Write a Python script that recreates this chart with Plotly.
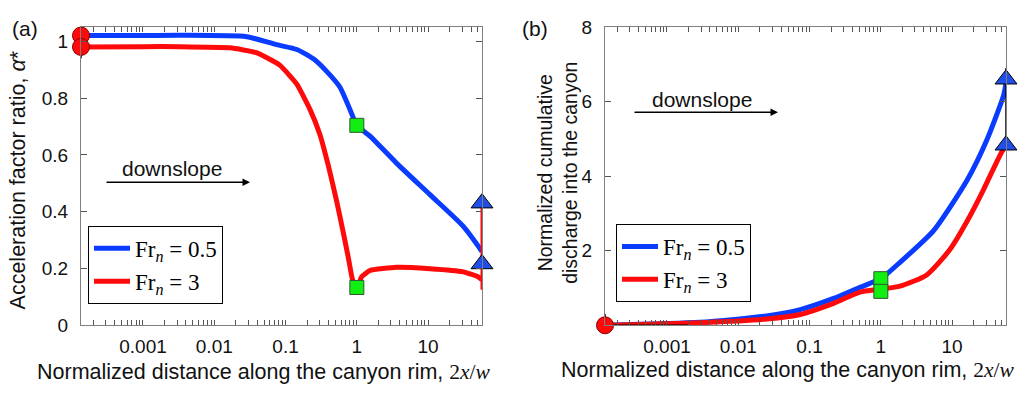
import plotly.graph_objects as go
import numpy as np

# ---------------- data ----------------
X_MIN = 1.35e-4
X_MAX = 57.0
YA_MAX = 1.05
YB_MAX = 8.0

# panel (a): acceleration factor ratio
x_a_blue = [X_MIN, 0.001, 0.0033, 0.0285, 0.075, 0.144, 0.246, 0.38, 0.58, 0.80, 1.0, 1.53, 3.6, 10.6, 31, X_MAX]
y_a_blue = [1.02, 1.02, 1.021, 1.016, 0.988, 0.971, 0.938, 0.893, 0.838, 0.76, 0.704, 0.666, 0.571, 0.46, 0.349, 0.26]
x_a_red = [X_MIN, 0.001, 0.0033, 0.0166, 0.039, 0.083, 0.144, 0.22, 0.304, 0.40, 0.52, 0.645, 0.76, 0.87, 1.0,
           1.17, 1.53, 3.6, 10.6, 31, 50, X_MAX]
y_a_red = [0.98, 0.981, 0.981, 0.977, 0.96, 0.916, 0.849, 0.76, 0.671, 0.56, 0.438, 0.327, 0.238, 0.16, 0.133,
           0.171, 0.193, 0.204, 0.199, 0.188, 0.171, 0.16]
a_start_y = [1.02, 0.98]
a_square_y = [0.704, 0.133]
a_tri_y = [0.43, 0.216]
a_end_red = [0.125, 0.43]

# panel (b): normalized cumulative discharge
x_b_blue = [X_MIN, 0.0029, 0.025, 0.074, 0.217, 0.51, 1.0, 1.86, 5.5, 16.2, 31, 53, X_MAX]
y_b_blue = [0.0, 0.08, 0.25, 0.42, 0.72, 1.02, 1.25, 1.69, 2.54, 3.89, 4.99, 6.18, 6.5]
x_b_red = [X_MIN, 0.0029, 0.025, 0.074, 0.217, 0.51, 1.0, 1.86, 4.4, 9.3, 16.2, 27.6, 42.6, 53, X_MAX]
y_b_red = [0.0, 0.07, 0.17, 0.29, 0.59, 0.89, 0.97, 1.05, 1.35, 2.03, 2.79, 3.64, 4.4, 4.74, 4.83]
b_start_y = [0.0]
b_square_y = [1.25, 0.91]
b_tri_y = [6.6, 4.83]
b_end_black = [4.83, 6.9]

legend_names = ["Fr<sub><i>n</i></sub> = 0.5", "Fr<sub><i>n</i></sub> = 3"]
x_decades = [0.001, 0.01, 0.1, 1, 10]
ya_ticks = [0, 0.2, 0.4, 0.6, 0.8, 1.0]
ya_ticktext = ["0", "0.2", "0.4", "0.6", "0.8", "1"]
yb_ticks = [2, 4, 6, 8]
yb_ticktext = ["2", "4", "6", "8"]

# log-axis tick positions (decades labelled, 2..9 multiples unlabelled)
x_tickvals, x_ticktext = [], []
for e in range(-4, 2):
    for m in range(1, 10):
        v = m * 10.0 ** e
        if X_MIN <= v <= X_MAX:
            x_tickvals.append(v)
            x_ticktext.append(("%g" % v) if (m == 1 and v in x_decades) else "")

BLUE = "#0a3cff"
RED = "#ff0a0a"
GREEN = "#11ee11"
TRI = "#1f4fe8"
AXC = "#7f7f7f"
TKC = "#555555"
FONT = "Liberation Sans, Arial, sans-serif"
SERIF = "Liberation Serif, Times New Roman, serif"

fig = go.Figure()

# ---- panel (a)
fig.add_trace(go.Scatter(x=x_a_blue, y=y_a_blue, mode="lines", line=dict(color=BLUE, width=5, shape="spline", smoothing=0.6),
                         name=legend_names[0], legend="legend", xaxis="x", yaxis="y"))
fig.add_trace(go.Scatter(x=x_a_red, y=y_a_red, mode="lines", line=dict(color=RED, width=5, shape="spline", smoothing=0.4),
                         name=legend_names[1], legend="legend", xaxis="x", yaxis="y"))
fig.add_trace(go.Scatter(x=[X_MAX, X_MAX], y=a_end_red, mode="lines", line=dict(color=RED, width=3),
                         showlegend=False, xaxis="x", yaxis="y", cliponaxis=False))
fig.add_trace(go.Scatter(x=[X_MIN, X_MIN], y=[0.94, 1.05], mode="lines", line=dict(color="black", width=1.5),
                         showlegend=False, xaxis="x", yaxis="y", cliponaxis=False))
fig.add_trace(go.Scatter(x=[X_MIN] * len(a_start_y), y=a_start_y, mode="markers",
                         marker=dict(symbol="circle", size=17, color=RED, line=dict(color="#8a0000", width=1)),
                         showlegend=False, xaxis="x", yaxis="y", cliponaxis=False))
fig.add_trace(go.Scatter(x=[1, 1], y=a_square_y, mode="markers",
                         marker=dict(symbol="square", size=14, color=GREEN, line=dict(color="#335533", width=1)),
                         showlegend=False, xaxis="x", yaxis="y", cliponaxis=False))
fig.add_trace(go.Scatter(x=[X_MAX] * 2, y=a_tri_y, mode="markers",
                         marker=dict(symbol="triangle-up", size=19, color=TRI, line=dict(color="black", width=1)),
                         showlegend=False, xaxis="x", yaxis="y", cliponaxis=False))

# ---- panel (b)
fig.add_trace(go.Scatter(x=x_b_blue, y=y_b_blue, mode="lines", line=dict(color=BLUE, width=5, shape="spline", smoothing=0.6),
                         name=legend_names[0], legend="legend2", xaxis="x2", yaxis="y2", cliponaxis=False))
fig.add_trace(go.Scatter(x=x_b_red, y=y_b_red, mode="lines", line=dict(color=RED, width=5, shape="spline", smoothing=0.6),
                         name=legend_names[1], legend="legend2", xaxis="x2", yaxis="y2", cliponaxis=False))
fig.add_trace(go.Scatter(x=[X_MAX, X_MAX], y=b_end_black, mode="lines", line=dict(color="black", width=1.5),
                         showlegend=False, xaxis="x2", yaxis="y2", cliponaxis=False))
fig.add_trace(go.Scatter(x=[X_MIN, X_MIN, 0.002], y=[0.3, 0.0, 0.0], mode="lines", line=dict(color="black", width=1.5),
                         showlegend=False, xaxis="x2", yaxis="y2", cliponaxis=False))
fig.add_trace(go.Scatter(x=[X_MIN], y=b_start_y, mode="markers",
                         marker=dict(symbol="circle", size=17, color=RED, line=dict(color="#8a0000", width=1)),
                         showlegend=False, xaxis="x2", yaxis="y2", cliponaxis=False))
fig.add_trace(go.Scatter(x=[1, 1], y=b_square_y, mode="markers",
                         marker=dict(symbol="square", size=14, color=GREEN, line=dict(color="#335533", width=1)),
                         showlegend=False, xaxis="x2", yaxis="y2", cliponaxis=False))
fig.add_trace(go.Scatter(x=[X_MAX] * 2, y=b_tri_y, mode="markers",
                         marker=dict(symbol="triangle-up", size=19, color=TRI, line=dict(color="black", width=1)),
                         showlegend=False, xaxis="x2", yaxis="y2", cliponaxis=False))

W, H = 1029, 395
def px(xp):
    return xp / W
def py(yp):
    return (H - yp) / H

TICKFONT = dict(family=FONT, size=19, color="#111")
xr = [np.log10(X_MIN), np.log10(X_MAX)]
xcommon = dict(type="log", range=xr, showgrid=False, zeroline=False, showline=True, linecolor=AXC,
               linewidth=1, mirror="ticks", ticks="inside", ticklen=5, tickwidth=1, tickcolor=TKC,
               tickmode="array", tickvals=x_tickvals, ticktext=x_ticktext, tickfont=TICKFONT,
               ticklabelstandoff=4)
ycommon = dict(showgrid=False, zeroline=False, showline=True, linecolor=AXC, linewidth=1, mirror="ticks",
               ticks="inside", ticklen=6, tickwidth=1, tickcolor=TKC, tickfont=TICKFONT,
               ticklabelstandoff=8)

ydom = [py(333), py(18)]
LEGFONT = dict(family=SERIF, size=23, color="black")
fig.update_layout(
    width=W, height=H, margin=dict(l=0, r=0, t=0, b=0),
    paper_bgcolor="white", plot_bgcolor="white",
    xaxis=dict(domain=[px(81), px(482)], anchor="y", **xcommon),
    yaxis=dict(domain=ydom, anchor="x", range=[0, YA_MAX], tickvals=ya_ticks, ticktext=ya_ticktext, **ycommon),
    xaxis2=dict(domain=[px(605), px(1006)], anchor="y2", **xcommon),
    yaxis2=dict(domain=ydom, anchor="x2", range=[0, YB_MAX], tickvals=yb_ticks, ticktext=yb_ticktext, **ycommon),
    legend=dict(x=px(88), y=py(228), xanchor="left", yanchor="top", bordercolor="black", borderwidth=1,
                bgcolor="white", font=LEGFONT, itemwidth=36, tracegroupgap=0),
    legend2=dict(x=px(616), y=py(226), xanchor="left", yanchor="top", bordercolor="black", borderwidth=1,
                 bgcolor="white", font=LEGFONT, itemwidth=36, tracegroupgap=0),
    font=dict(family=FONT, color="#111"),
)

TFONT = dict(family=FONT, size=21, color="#111")
XTFONT = dict(family=FONT, size=21.5, color="#111")
xtitle = "Normalized distance along the canyon rim, <span style='font-family:Liberation Serif'>2<i>x</i>/<i>w</i></span>"
ann = []
ann.append(dict(text=xtitle, x=px(264), y=py(382), xref="paper", yref="paper", showarrow=False,
                font=XTFONT, xanchor="center", yanchor="middle"))
ann.append(dict(text=xtitle, x=px(788), y=py(380), xref="paper", yref="paper", showarrow=False,
                font=XTFONT, xanchor="center", yanchor="middle"))
ann.append(dict(text="Acceleration factor ratio, <i>α</i>*", x=px(18), y=py(180), xref="paper", yref="paper",
                showarrow=False, textangle=-90, font=XTFONT, xanchor="center", yanchor="middle"))
ann.append(dict(text="Normalized cumulative<br>discharge into the canyon", x=px(558), y=py(172), xref="paper",
                yref="paper", showarrow=False, textangle=-90, font=dict(family=FONT, size=19.5, color="#111"),
                xanchor="center", yanchor="middle"))
ann.append(dict(text="(a)", x=px(25), y=py(20), xref="paper", yref="paper", showarrow=False,
                font=TFONT, xanchor="center", yanchor="middle"))
ann.append(dict(text="(b)", x=px(535), y=py(20), xref="paper", yref="paper", showarrow=False,
                font=TFONT, xanchor="center", yanchor="middle"))
# downslope arrows
ann.append(dict(text="downslope", x=px(172), y=py(167), xref="paper", yref="paper", showarrow=False,
                font=TFONT, xanchor="center", yanchor="middle"))
ann.append(dict(text="", x=px(250), y=py(182), xref="paper", yref="paper", showarrow=True,
                ax=-145, ay=0, arrowhead=2, arrowsize=1, arrowwidth=1.5, arrowcolor="black"))
ann.append(dict(text="downslope", x=px(702), y=py(94), xref="paper", yref="paper", showarrow=False,
                font=TFONT, xanchor="center", yanchor="middle"))
ann.append(dict(text="", x=px(778), y=py(108), xref="paper", yref="paper", showarrow=True,
                ax=-145, ay=0, arrowhead=2, arrowsize=1, arrowwidth=1.5, arrowcolor="black"))
fig.update_layout(annotations=ann)

fig.write_html("out.html")
